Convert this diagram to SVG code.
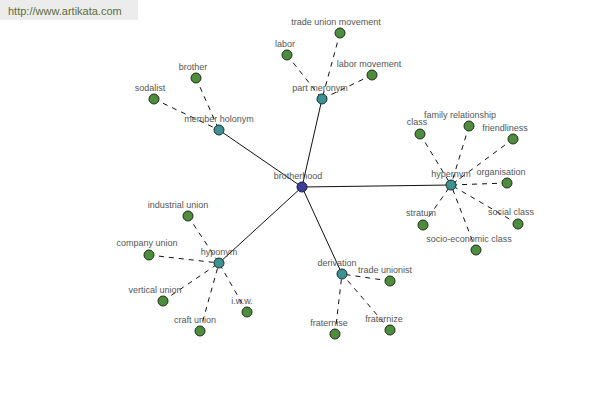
<svg xmlns="http://www.w3.org/2000/svg" width="600" height="400" viewBox="0 0 600 400">
<style>
.bg{fill:#ffffff}
.url{fill:#ececec}
.urlt{font-family:"Liberation Sans",Arial,sans-serif;font-size:11px;fill:#5b6e3a}
.lbl{font-family:"Liberation Sans",Arial,sans-serif;font-size:9px;fill:#555555;text-anchor:middle}
.solid{stroke:#111111;stroke-width:1;fill:none}
.dash{stroke:#111111;stroke-width:1;fill:none;stroke-dasharray:5,5}
.leaf{fill:#4e8c3e;stroke:#1e2e18;stroke-width:1}
.mid{fill:#3e9191;stroke:#1a3030;stroke-width:1}
.root{fill:#3f3f95;stroke:#1a1a40;stroke-width:1}
</style>
<rect class="bg" x="0" y="0" width="600" height="400"/>
<rect class="url" x="0" y="0" width="138" height="20"/>
<text class="urlt" x="8" y="15">http://www.artikata.com</text>
<g id="connectors">
<line class="solid" x1="302" y1="187" x2="219" y2="130"/>
<line class="solid" x1="302" y1="187" x2="322" y2="99"/>
<line class="solid" x1="302" y1="187" x2="451" y2="185"/>
<line class="solid" x1="302" y1="187" x2="219" y2="263"/>
<line class="solid" x1="302" y1="187" x2="342" y2="274"/>
<line class="dash" x1="154" y1="99" x2="219" y2="130" stroke-dashoffset="-10"/>
<line class="dash" x1="196" y1="78" x2="219" y2="130" stroke-dashoffset="-10"/>
<line class="dash" x1="287" y1="55" x2="322" y2="99" stroke-dashoffset="-10"/>
<line class="dash" x1="340" y1="33" x2="322" y2="99" stroke-dashoffset="-10"/>
<line class="dash" x1="372" y1="75" x2="322" y2="99" stroke-dashoffset="-10"/>
<line class="dash" x1="420" y1="134" x2="451" y2="185" stroke-dashoffset="-10"/>
<line class="dash" x1="469" y1="126" x2="451" y2="185" stroke-dashoffset="-10"/>
<line class="dash" x1="513" y1="139" x2="451" y2="185" stroke-dashoffset="-10"/>
<line class="dash" x1="507" y1="183" x2="451" y2="185" stroke-dashoffset="-10"/>
<line class="dash" x1="518" y1="224" x2="451" y2="185" stroke-dashoffset="-10"/>
<line class="dash" x1="476" y1="250" x2="451" y2="185" stroke-dashoffset="-10"/>
<line class="dash" x1="423" y1="225" x2="451" y2="185" stroke-dashoffset="-10"/>
<line class="dash" x1="188" y1="216" x2="219" y2="263" stroke-dashoffset="-10"/>
<line class="dash" x1="149" y1="255" x2="219" y2="263" stroke-dashoffset="-10"/>
<line class="dash" x1="163" y1="301" x2="219" y2="263" stroke-dashoffset="-10"/>
<line class="dash" x1="200" y1="331" x2="219" y2="263" stroke-dashoffset="-10"/>
<line class="dash" x1="247" y1="312" x2="219" y2="263" stroke-dashoffset="-10"/>
<line class="dash" x1="390" y1="281" x2="342" y2="274" stroke-dashoffset="-10"/>
<line class="dash" x1="335" y1="334" x2="342" y2="274" stroke-dashoffset="-10"/>
<line class="dash" x1="390" y1="330" x2="342" y2="274" stroke-dashoffset="-10"/>
</g>
<g id="brotherhood"><circle class="root" cx="302" cy="187" r="5"/><text class="lbl" x="298" y="179">brotherhood</text></g>
<g id="member-holonym"><circle class="mid" cx="219" cy="130" r="5"/><text class="lbl" x="219" y="122">member holonym</text></g>
<g id="sodalist"><circle class="leaf" cx="154" cy="99" r="5"/><text class="lbl" x="150" y="91">sodalist</text></g>
<g id="brother"><circle class="leaf" cx="196" cy="78" r="5"/><text class="lbl" x="193" y="70">brother</text></g>
<g id="part-meronym"><circle class="mid" cx="322" cy="99" r="5"/><text class="lbl" x="320" y="91">part meronym</text></g>
<g id="labor"><circle class="leaf" cx="287" cy="55" r="5"/><text class="lbl" x="285" y="47">labor</text></g>
<g id="trade-union-movement"><circle class="leaf" cx="340" cy="33" r="5"/><text class="lbl" x="336" y="25">trade union movement</text></g>
<g id="labor-movement"><circle class="leaf" cx="372" cy="75" r="5"/><text class="lbl" x="369" y="67">labor movement</text></g>
<g id="hypernym"><circle class="mid" cx="451" cy="185" r="5"/><text class="lbl" x="451" y="177">hypernym</text></g>
<g id="class"><circle class="leaf" cx="420" cy="134" r="5"/><text class="lbl" x="417" y="125">class</text></g>
<g id="family-relationship"><circle class="leaf" cx="469" cy="126" r="5"/><text class="lbl" x="460" y="118">family relationship</text></g>
<g id="friendliness"><circle class="leaf" cx="513" cy="139" r="5"/><text class="lbl" x="505" y="131">friendliness</text></g>
<g id="organisation"><circle class="leaf" cx="507" cy="183" r="5"/><text class="lbl" x="501" y="175">organisation</text></g>
<g id="social-class"><circle class="leaf" cx="518" cy="224" r="5"/><text class="lbl" x="511" y="215">social class</text></g>
<g id="socio-economic-class"><circle class="leaf" cx="476" cy="250" r="5"/><text class="lbl" x="469" y="242">socio-economic class</text></g>
<g id="stratum"><circle class="leaf" cx="423" cy="225" r="5"/><text class="lbl" x="421" y="216">stratum</text></g>
<g id="hyponym"><circle class="mid" cx="219" cy="263" r="5"/><text class="lbl" x="219" y="255">hyponym</text></g>
<g id="industrial-union"><circle class="leaf" cx="188" cy="216" r="5"/><text class="lbl" x="178" y="208">industrial union</text></g>
<g id="company-union"><circle class="leaf" cx="149" cy="255" r="5"/><text class="lbl" x="147" y="246">company union</text></g>
<g id="vertical-union"><circle class="leaf" cx="163" cy="301" r="5"/><text class="lbl" x="155" y="293">vertical union</text></g>
<g id="craft-union"><circle class="leaf" cx="200" cy="331" r="5"/><text class="lbl" x="195" y="323">craft union</text></g>
<g id="iww"><circle class="leaf" cx="247" cy="312" r="5"/><text class="lbl" x="242" y="304">i.w.w.</text></g>
<g id="derivation"><circle class="mid" cx="342" cy="274" r="5"/><text class="lbl" x="337" y="266">derivation</text></g>
<g id="trade-unionist"><circle class="leaf" cx="390" cy="281" r="5"/><text class="lbl" x="385" y="273">trade unionist</text></g>
<g id="fraternise"><circle class="leaf" cx="335" cy="334" r="5"/><text class="lbl" x="329" y="326">fraternise</text></g>
<g id="fraternize"><circle class="leaf" cx="390" cy="330" r="5"/><text class="lbl" x="384" y="322">fraternize</text></g>
</svg>
